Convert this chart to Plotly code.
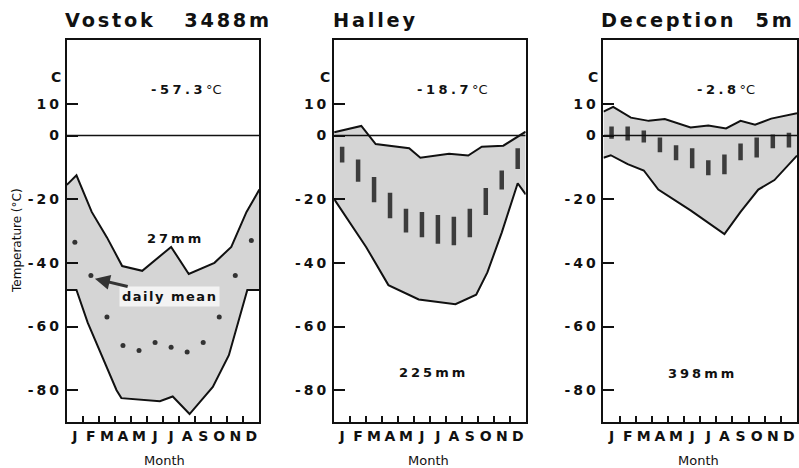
import plotly.graph_objects as go

W, H = 799, 468

# ---------------- data ----------------
months = ["J", "F", "M", "A", "M", "J", "J", "A", "S", "O", "N", "D"]
month_pos = [i + 0.5 for i in range(12)]
month_bounds = list(range(1, 12))
y_tickvals = [10, 0, -20, -40, -60, -80]
y_ticktext = ["10", "0", "-20", "-40", "-60", "-80"]

stations = ["Vostok", "Halley", "Deception"]
titles = ["Vostok   3488m", "Halley", "Deception  5m"]
annual_mean = ["-57.3", "-18.7", "-2.8"]
precip = ["27mm", "225mm", "398mm"]

# Vostok
vostok_max_x = [0, 0.6, 1.55, 2.5, 3.45, 4.7, 6.5, 7.6, 9.2, 10.25, 11.2, 12]
vostok_max_y = [-15.5, -12.5, -24, -32, -41, -42.5, -35, -43.5, -40, -35, -24, -17]
vostok_min_x = [0, 0.6, 1.3, 2.15, 3.1, 3.4, 5.8, 6.6, 7.65, 9.1, 10.1, 11.25, 12]
vostok_min_y = [-48.5, -48.5, -58.8, -69, -80, -82.5, -83.5, -82, -87.5, -79, -69, -48.5, -48.5]
vostok_daily_mean = [-33.5, -44, -57, -66, -67.5, -65, -66.5, -68, -65, -57, -44, -33]

# Halley
halley_max_x = [0, 1.7, 2.6, 4.7, 5.4, 7.2, 8.4, 9.25, 10.6, 12]
halley_max_y = [1, 3, -2.7, -4, -7, -5.7, -6.3, -3.5, -3.2, 1.2]
halley_min_x = [0, 2.0, 3.4, 5.3, 7.6, 8.9, 9.6, 10.5, 11.5, 12]
halley_min_y = [-20, -35, -47, -51.5, -53, -50, -43, -30.5, -15, -18.5]
halley_bar_hi = [-3.5, -7.5, -13, -18, -23, -24, -25, -25.5, -23, -16.5, -11, -4]
halley_bar_lo = [-8.5, -14.5, -21, -26, -30.5, -32, -34, -34.5, -32, -25, -17, -10.5]

# Deception
deception_max_x = [0, 0.6, 1.7, 2.8, 3.8, 5.4, 6.5, 7.6, 8.5, 9.4, 10.4, 12]
deception_max_y = [7.5, 9, 5.6, 4.6, 5.2, 2.5, 3.1, 2.2, 4.6, 3.4, 5.3, 7]
deception_min_x = [0, 0.45, 1.5, 2.5, 3.4, 5.4, 7.5, 8.5, 9.6, 10.6, 12]
deception_min_y = [-7, -6.2, -9, -11, -17, -23.5, -31, -24, -17, -14, -6.3]
deception_bar_hi = [2.8, 2.8, 1.6, -0.6, -3.1, -4, -7.8, -6, -2.5, -0.6, 0.3, 0.9]
deception_bar_lo = [-1, -1.6, -2.2, -5.3, -7.8, -10.3, -12.5, -12.2, -7.8, -6.9, -4, -3.8]

# ---------------- styling ----------------
FILL = "#d5d5d5"
INK = "#111111"
BAR = "#3c3c3c"
FB = "DejaVu Sans"
x_domains = [(67 / W, 260 / W), (335 / W, 527 / W), (605 / W, 1.0)]
y_domain = ((H - 422) / H, (H - 40) / H)


def ls(text, px):
    return f'<span style="letter-spacing:{px}px">{text}</span>'


envelopes = [
    (vostok_max_x, vostok_max_y, vostok_min_x, vostok_min_y),
    (halley_max_x, halley_max_y, halley_min_x, halley_min_y),
    (deception_max_x, deception_max_y, deception_min_x, deception_min_y),
]
bars = [None, (halley_bar_lo, halley_bar_hi), (deception_bar_lo, deception_bar_hi)]

fig = go.Figure()
for i, (mx, my, nx, ny) in enumerate(envelopes):
    xa = "x" if i == 0 else f"x{i+1}"
    ya = "y" if i == 0 else f"y{i+1}"
    fig.add_trace(go.Scatter(
        x=list(mx) + list(nx)[::-1], y=list(my) + list(ny)[::-1],
        fill="toself", fillcolor=FILL, mode="none",
        xaxis=xa, yaxis=ya, showlegend=False, hoverinfo="skip"))
    fig.add_trace(go.Scatter(x=mx, y=my, mode="lines",
                             line=dict(color=INK, width=2),
                             xaxis=xa, yaxis=ya, showlegend=False))
    fig.add_trace(go.Scatter(x=nx, y=ny, mode="lines",
                             line=dict(color=INK, width=2),
                             xaxis=xa, yaxis=ya, showlegend=False))
    if bars[i] is not None:
        lo, hi = bars[i]
        bx, by = [], []
        for p, l, h in zip(month_pos, lo, hi):
            bx += [p, p, None]
            by += [l, h, None]
        fig.add_trace(go.Scatter(x=bx, y=by, mode="lines",
                                 line=dict(color=BAR, width=4.5),
                                 xaxis=xa, yaxis=ya, showlegend=False))

fig.add_trace(go.Scatter(x=month_pos, y=vostok_daily_mean, mode="markers",
                         marker=dict(color="#333333", size=5),
                         xaxis="x", yaxis="y", showlegend=False))

layout = dict(
    width=W, height=H, margin=dict(l=0, r=0, t=0, b=0),
    paper_bgcolor="white", plot_bgcolor="white",
    showlegend=False,
    font=dict(family=FB, color=INK),
)
shapes = []
annotations = []
for i in range(3):
    sfx = "" if i == 0 else str(i + 1)
    layout["xaxis" + sfx] = dict(
        domain=list(x_domains[i]), anchor="y" + sfx, range=[0, 12],
        tickvals=month_pos, ticktext=months, ticks="",
        tickfont=dict(family=FB, size=14, color=INK, weight="bold"),
        minor=dict(tickmode="array", tickvals=month_bounds, ticks="inside",
                   ticklen=6, tickwidth=2, tickcolor=INK, showgrid=False),
        showline=True, mirror=True, linewidth=2, linecolor=INK,
        showgrid=False, zeroline=False, fixedrange=True)
    layout["yaxis" + sfx] = dict(
        domain=list(y_domain), anchor="x" + sfx, range=[-90, 30],
        tickvals=y_tickvals, ticktext=[ls(t, 3) for t in y_ticktext],
        ticks="inside", ticklen=11, tickwidth=2, tickcolor=INK,
        tickfont=dict(family=FB, size=14, color=INK, weight="bold"),
        showline=True, mirror=True, linewidth=2, linecolor=INK,
        showgrid=False, zeroline=False, fixedrange=True)
    xr = "x" + sfx
    yr = "y" + sfx
    shapes.append(dict(type="line", xref=xr, yref=yr, x0=0, x1=12, y0=0, y1=0,
                       line=dict(color=INK, width=1.5), layer="above"))
    # title
    annotations.append(dict(text=ls(titles[i], 2.8), xref="paper", yref="paper",
                            x=[63, 332, 601][i] / W, y=(H - 21) / H,
                            xanchor="left", yanchor="middle", showarrow=False,
                            font=dict(family=FB, size=19.3, color=INK, weight="bold")))
    # unit label C
    annotations.append(dict(text="C", xref="paper", yref="paper",
                            x=[56, 326, 594][i] / W, y=(H - 77) / H,
                            xanchor="center", yanchor="middle", showarrow=False,
                            font=dict(family=FB, size=14, color=INK, weight="bold")))
    # annual mean temperature
    annotations.append(dict(
        text=ls(annual_mean[i], 3.5) + '<span style="font-weight:normal">°C</span>',
        xref="paper", yref="paper",
        x=[187, 454, 728][i] / W, y=(H - 89) / H,
        xanchor="center", yanchor="middle", showarrow=False,
        font=dict(family=FB, size=13, color=INK, weight="bold")))
    # precipitation
    annotations.append(dict(text=ls(precip[i], 3), xref="paper", yref="paper",
                            x=[176, 435, 704][i] / W,
                            y=(H - [238, 372, 373][i]) / H,
                            xanchor="center", yanchor="middle", showarrow=False,
                            font=dict(family=FB, size=13, color=INK, weight="bold")))
    # Month label
    annotations.append(dict(text="Month", xref="paper", yref="paper",
                            x=[165, 430, 700][i] / W, y=(H - 460) / H,
                            xanchor="center", yanchor="middle", showarrow=False,
                            font=dict(family=FB, size=13, color=INK)))

annotations.append(dict(text="Temperature (°C)", xref="paper", yref="paper",
                        x=17 / W, y=(H - 240) / H, textangle=-90,
                        xanchor="center", yanchor="middle", showarrow=False,
                        font=dict(family=FB, size=12, color=INK)))
annotations.append(dict(text=ls("daily mean", 1.5), xref="x", yref="y",
                        x=1.75, y=-45, ax=6.4, ay=-50.6, axref="x", ayref="y",
                        showarrow=True, arrowhead=2, arrowsize=1, arrowwidth=3,
                        arrowcolor="#333333", bgcolor="#f3f3f3", borderpad=2,
                        font=dict(family=FB, size=13, color=INK, weight="bold")))

layout["shapes"] = shapes
layout["annotations"] = annotations
fig.update_layout(**layout)
fig.write_html("out.html")
